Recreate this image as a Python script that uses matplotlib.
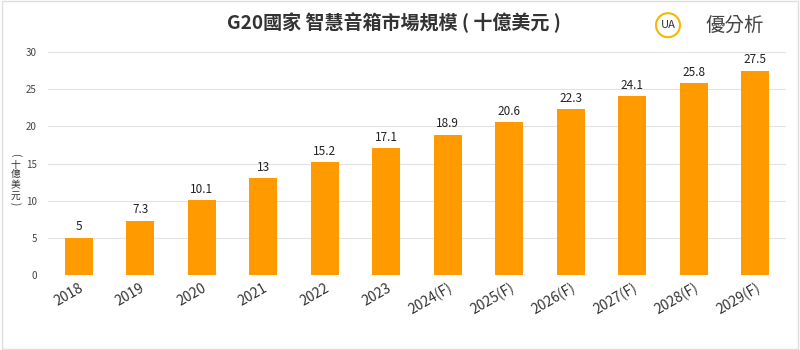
import matplotlib.pyplot as plt
from matplotlib.patches import Circle, Rectangle

plt.rcParams['font.family'] = ['Noto Sans CJK TC', 'DejaVu Sans']

years = ['2018', '2019', '2020', '2021', '2022', '2023',
         '2024(F)', '2025(F)', '2026(F)', '2027(F)', '2028(F)', '2029(F)']
values = [5, 7.3, 10.1, 13, 15.2, 17.1, 18.9, 20.6, 22.3, 24.1, 25.8, 27.5]
labels = ['5', '7.3', '10.1', '13', '15.2', '17.1', '18.9', '20.6', '22.3', '24.1', '25.8', '27.5']
ylabel_chars = ['十', '億', '美', '元']

bar_color = '#FF9A00'

fig = plt.figure(figsize=(8, 3.5), dpi=100)
fig.patches.append(Rectangle((0.002, 0.003), 0.996, 0.994, transform=fig.transFigure,
                             fill=False, edgecolor='#dddddd', linewidth=1))
ax = fig.add_axes([0.06, 0.214, 0.9225, 0.637])

x = range(len(years))
ax.bar(x, values, width=0.46, color=bar_color, zorder=3)
for i, v in enumerate(values):
    ax.text(i, v + 0.6, labels[i], ha='center', va='bottom', fontsize=8.5, color='#222222')

ax.set_xlim(-0.5, len(years) - 0.5)
ax.set_ylim(0, 30)
ax.set_yticks([0, 5, 10, 15, 20, 25, 30])
ax.set_xticks(list(x))
ax.set_xticklabels(years, rotation=30, ha='right', rotation_mode='anchor', fontsize=10, color='#333333')
ax.tick_params(axis='y', labelsize=7, colors='#444444', length=0, pad=8)
ax.tick_params(axis='x', length=0, pad=4)
ax.grid(axis='y', color='#e3e3e3', linewidth=0.8, zorder=0)
for s in ax.spines.values():
    s.set_visible(False)

fig.text(0.493, 0.935, 'G20國家 智慧音箱市場規模 ( 十億美元 )', ha='center', va='center',
         fontsize=13.7, fontweight='bold', color='#333333')

# vertical y label, one character per line
fig.text(0.019, 0.557, '(', rotation=270, ha='center', va='center', fontsize=7, color='#333333')
for k, ch in enumerate(ylabel_chars):
    fig.text(0.019, 0.529 - k * 0.0295, ch, ha='center', va='center', fontsize=7, color='#333333')
fig.text(0.019, 0.417, ')', rotation=270, ha='center', va='center', fontsize=7, color='#333333')

# logo
logo = Circle((0.835 * 8, 0.928 * 3.5), 0.12, transform=fig.dpi_scale_trans, fill=False,
              edgecolor='#F5B800', linewidth=1.5)
fig.patches.append(logo)
fig.text(0.835, 0.928, 'UA', ha='center', va='center', fontsize=8, color='#333333')
fig.text(0.918, 0.928, '優分析', ha='center', va='center', fontsize=14, color='#444444')

fig.savefig('out.png', dpi=100)
